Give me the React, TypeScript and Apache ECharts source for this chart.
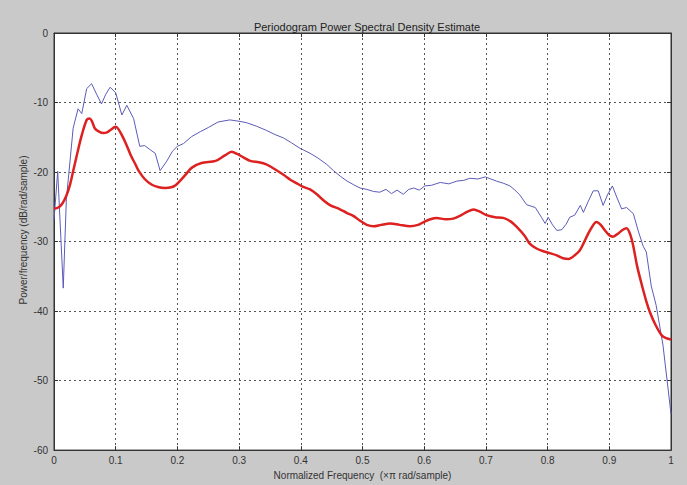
import React, { useEffect, useRef } from "react";
import * as echarts from "echarts";

const titleText = "Periodogram Power Spectral Density Estimate";
const xName = "Normalized Frequency  (\u00d7\u03c0 rad/sample)";
const yName = "Power/frequency (dB/rad/sample)";

const blueFreq = [
  0.0, 0.006, 0.015, 0.02, 0.026, 0.031, 0.039, 0.045, 0.053, 0.061, 0.069, 0.077, 0.084, 0.091,
  0.1, 0.11, 0.118, 0.129, 0.139, 0.147, 0.156, 0.164, 0.172, 0.183, 0.192, 0.2, 0.21, 0.223,
  0.237, 0.25, 0.266, 0.285, 0.3, 0.312, 0.328, 0.344, 0.358, 0.372, 0.385, 0.399, 0.415, 0.428,
  0.442, 0.453, 0.464, 0.475, 0.485, 0.496, 0.507, 0.518, 0.528, 0.538, 0.547, 0.556, 0.566,
  0.575, 0.583, 0.592, 0.601, 0.612, 0.626, 0.64, 0.653, 0.664, 0.674, 0.687, 0.699, 0.708,
  0.717, 0.728, 0.739, 0.747, 0.755, 0.766, 0.78, 0.79, 0.796, 0.801, 0.808, 0.815, 0.823, 0.83,
  0.836, 0.844, 0.853, 0.858, 0.866, 0.874, 0.882, 0.89, 0.897, 0.905, 0.912, 0.92, 0.928, 0.939,
  0.947, 0.955, 0.96, 0.968, 0.976, 0.987, 1.0,
];
const blueDb = [
  -26.9, -19.9, -36.7, -24.0, -18.4, -13.7, -10.9, -11.6, -8.0, -7.3, -8.8, -10.2, -8.8, -7.8,
  -8.6, -11.8, -10.4, -12.3, -16.3, -16.2, -16.8, -17.3, -19.8, -18.4, -17.0, -16.3, -15.9, -14.9,
  -14.2, -13.6, -12.8, -12.5, -12.7, -12.9, -13.4, -14.0, -14.6, -15.1, -15.8, -16.6, -17.3, -18.0,
  -18.9, -19.8, -20.6, -21.3, -21.8, -22.3, -22.5, -22.8, -22.9, -22.5, -23.1, -22.6, -23.2,
  -22.5, -22.3, -22.6, -22.0, -21.9, -21.5, -21.7, -21.3, -21.2, -20.9, -21.0, -20.7, -21.0,
  -21.3, -21.6, -22.0, -22.6, -23.3, -24.7, -25.1, -26.5, -27.4, -26.5, -27.6, -28.4, -28.3, -27.5,
  -26.5, -26.2, -24.8, -25.8, -24.2, -22.7, -22.7, -24.8, -23.3, -22.0, -23.6, -25.3, -25.1, -26.0,
  -28.5, -30.7, -31.5, -36.4, -39.2, -44.9, -54.8,
];

const redFreq = [
  0.0, 0.007, 0.013, 0.02, 0.026, 0.031, 0.038, 0.045, 0.053, 0.058, 0.062, 0.066, 0.073, 0.08,
  0.086, 0.091, 0.1, 0.105, 0.11, 0.117, 0.124, 0.132, 0.137, 0.147, 0.158, 0.17, 0.18, 0.19,
  0.197, 0.205, 0.215, 0.223, 0.239, 0.262, 0.277, 0.288, 0.297, 0.307, 0.318, 0.332, 0.344,
  0.358, 0.372, 0.383, 0.393, 0.403, 0.415, 0.426, 0.437, 0.448, 0.462, 0.475, 0.485, 0.496,
  0.507, 0.518, 0.53, 0.545, 0.56, 0.577, 0.59, 0.599, 0.61, 0.62, 0.635, 0.647, 0.66, 0.67,
  0.68, 0.69, 0.701, 0.715, 0.728, 0.74, 0.75, 0.763, 0.771, 0.782, 0.793, 0.805, 0.815, 0.825,
  0.834, 0.845, 0.852, 0.858, 0.865, 0.872, 0.879, 0.886, 0.893, 0.9, 0.906, 0.915, 0.922, 0.928,
  0.934, 0.939, 0.945, 0.952, 0.96, 0.966, 0.975, 0.985, 0.992, 1.0,
];
const redDb = [
  -25.3, -25.1, -24.6, -23.4, -21.8, -19.9, -17.2, -14.7, -12.5, -12.3, -12.8, -13.7, -14.2, -14.4,
  -14.3, -14.0, -13.5, -13.9, -14.7, -16.0, -17.5, -18.9, -19.8, -21.0, -21.8, -22.2, -22.3, -22.2,
  -21.9, -21.2, -20.2, -19.4, -18.7, -18.4, -17.6, -17.1, -17.4, -17.9, -18.4, -18.6, -18.9,
  -19.6, -20.4, -21.1, -21.6, -22.1, -22.5, -23.2, -24.1, -24.8, -25.3, -25.9, -26.3, -27.0,
  -27.6, -27.8, -27.6, -27.4, -27.6, -27.8, -27.6, -27.2, -26.8, -26.6, -26.8, -26.7, -26.2, -25.7,
  -25.4, -25.7, -26.2, -26.5, -26.6, -27.1, -27.9, -29.2, -30.3, -31.0, -31.4, -31.7, -32.0, -32.4,
  -32.5, -31.9, -31.3, -30.3, -29.0, -27.9, -27.2, -27.6, -28.4, -29.1, -29.3, -28.8, -28.3, -28.1,
  -29.0, -30.7, -33.5, -36.0, -38.6, -40.2, -42.0, -43.5, -43.9, -44.1,
];

const FONT = "'Liberation Sans Narrow', 'Liberation Sans', Arial, sans-serif";

export default function App() {
  const ref = useRef<HTMLDivElement>(null);
  useEffect(() => {
    if (!ref.current) return;
    const chart = echarts.init(ref.current, undefined, { renderer: "svg" });
    const pairs = (xs: number[], ys: number[]) => xs.map((x, i) => [x, ys[i]]);
    const tickStyle = { show: true, inside: true, length: 4, lineStyle: { color: "#333", width: 1 } };
    const gridLine = { show: true, lineStyle: { color: "#555", width: 1, type: [2, 3] as any } };
    chart.setOption({
      animation: false,
      backgroundColor: "#c9c9c9",
      title: {
        text: titleText,
        left: 362,
        textAlign: "center",
        top: 16,
        textStyle: { fontFamily: FONT, fontSize: 11, fontWeight: "normal", color: "#222" },
      },
      grid: {
        left: 54,
        right: 16,
        top: 33,
        bottom: 29,
        show: true,
        backgroundColor: "#ffffff",
        borderColor: "#333",
        borderWidth: 1,
      },
      xAxis: [
        {
          type: "value",
          min: 0,
          max: 1,
          interval: 0.1,
          position: "bottom",
          axisLine: { show: true, onZero: false, lineStyle: { color: "#333" } },
          axisTick: tickStyle,
          splitLine: gridLine,
          axisLabel: { color: "#333", fontFamily: FONT, fontSize: 10, margin: 5 },
          name: xName,
          nameLocation: "middle",
          nameGap: 17,
          nameTextStyle: { color: "#333", fontFamily: FONT, fontSize: 10 },
        },
        {
          type: "value",
          min: 0,
          max: 1,
          interval: 0.1,
          position: "top",
          axisLine: { show: true, onZero: false, lineStyle: { color: "#333" } },
          axisTick: tickStyle,
          splitLine: { show: false },
          axisLabel: { show: false },
        },
      ],
      yAxis: [
        {
          type: "value",
          min: -60,
          max: 0,
          interval: 10,
          position: "left",
          axisLine: { show: true, onZero: false, lineStyle: { color: "#333" } },
          axisTick: tickStyle,
          splitLine: gridLine,
          axisLabel: { color: "#333", fontFamily: FONT, fontSize: 10, margin: 6 },
        },
        {
          type: "value",
          min: -60,
          max: 0,
          interval: 10,
          position: "right",
          axisLine: { show: true, onZero: false, lineStyle: { color: "#333" } },
          axisTick: tickStyle,
          splitLine: { show: false },
          axisLabel: { show: false },
        },
      ],
      graphic: [
        {
          type: "text",
          x: 23,
          y: 230,
          rotation: Math.PI / 2,
          style: {
            text: yName,
            fill: "#333",
            font: `10px ${FONT}`,
            align: "center",
            verticalAlign: "middle",
          },
        },
      ],
      series: [
        {
          type: "line",
          name: "blue",
          data: pairs(blueFreq, blueDb),
          showSymbol: false,
          lineStyle: { color: "#5b5bb8", width: 1 },
          z: 3,
        },
        {
          type: "line",
          name: "red",
          data: pairs(redFreq, redDb),
          showSymbol: false,
          smooth: 0.3,
          lineStyle: { color: "#dd2020", width: 2.5 },
          z: 4,
        },
      ],
    });
    return () => chart.dispose();
  }, []);
  return (
    <div
      ref={ref}
      style={{ position: "fixed", left: 0, top: 0, width: 687, height: 485 }}
    />
  );
}
